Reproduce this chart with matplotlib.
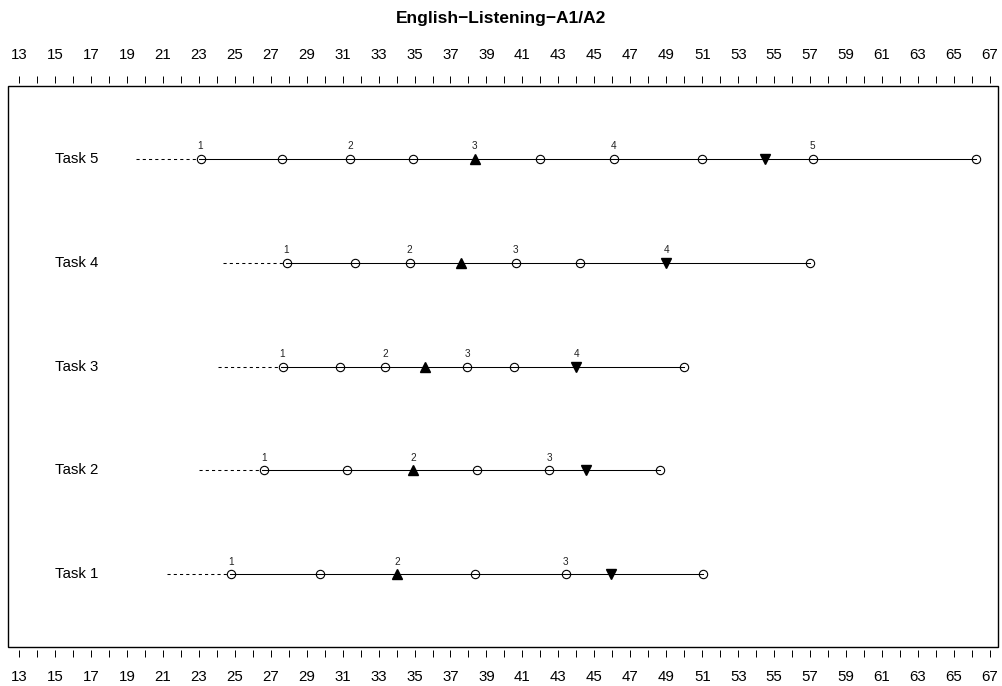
import numpy as np
import matplotlib.pyplot as plt
from matplotlib.patches import Rectangle

plt.rcParams['font.family'] = ['Liberation Sans', 'DejaVu Sans']

# Aufgaben von unten nach oben
tasks = ["Task 1", "Task 2", "Task 3", "Task 4", "Task 5"]

# Beginn der gestrichelten Linie
dash_start = [21.24, 23.02, 24.08, 24.32, 19.50]

# offene Kreise
circles = [
    [24.82, 29.77, 38.35, 43.41, 51.04],
    [26.62, 31.23, 38.46, 42.48, 48.63],
    [27.66, 30.88, 33.38, 37.92, 40.53, 49.98],
    [27.88, 31.68, 34.73, 40.63, 44.18, 57.01],
    [23.10, 27.64, 31.40, 34.92, 42.00, 46.09, 50.97, 57.15, 66.24],
]

# gefüllte Dreiecke
up_tri = [34.03, 34.92, 35.58, 37.57, 38.35]
down_tri = [45.95, 44.52, 44.00, 49.00, 54.47]

# nummerierte Stufen über den Punkten
step_pos = [
    [24.82, 34.03, 43.41],
    [26.62, 34.92, 42.48],
    [27.66, 33.38, 37.92, 44.00],
    [27.88, 34.73, 40.63, 49.00],
    [23.10, 31.40, 38.35, 46.09, 57.15],
]

fig = plt.figure(figsize=(10.03, 6.86), dpi=100)
ax = fig.add_axes([8 / 1003, 39 / 686, 990 / 1003, 561 / 686])

for i, name in enumerate(tasks):
    y = i + 1
    alle = circles[i] + [up_tri[i], down_tri[i]]
    lo, hi = min(alle), max(alle)
    ax.plot([dash_start[i], lo], [y, y], color="black", lw=0.75,
            dashes=(3, 3))
    ax.plot([lo, hi], [y, y], color="black", lw=0.75)
    ax.plot(circles[i], [y] * len(circles[i]), "o", ms=6, mfc="none",
            mec="black", mew=0.8)
    ax.plot([up_tri[i]], [y], "^", ms=7.5, color="black")
    ax.plot([down_tri[i]], [y], "v", ms=7.5, color="black")
    for k, p in enumerate(step_pos[i]):
        ax.annotate(str(k + 1), (p, y), xytext=(0, 5.5), textcoords="offset points",
                    ha="center", va="bottom", fontsize=7.2, color="#222222")
    ax.text(15.0, y, name, ha="left", va="center", fontsize=10.8)

ax.set_xlim(12.39, 67.45)
ax.set_ylim(0.3, 5.7)

ax.set_xticks(np.arange(13, 68, 2))
ax.set_xticks(np.arange(13, 68, 1), minor=True)
ax.set_yticks([])
ax.tick_params(axis="x", which="both", top=True, bottom=True,
               labeltop=True, labelbottom=True, direction="out",
               length=5, width=0.7, pad=9.5, labelsize=10.8)

for s in ax.spines.values():
    s.set_visible(False)
ax.spines["top"].set_position(("outward", 2.5))
ax.spines["bottom"].set_position(("outward", 2))

ax.add_patch(Rectangle((0, 0), 1, 1, transform=ax.transAxes, fill=False,
                       lw=1, edgecolor="black", clip_on=False))

fig.text(0.5, 1 - 18 / 686, "English\u2212Listening\u2212A1/A2",
         ha="center", va="center", fontsize=12.5, fontweight="bold")

fig.savefig("out.png", dpi=100)
